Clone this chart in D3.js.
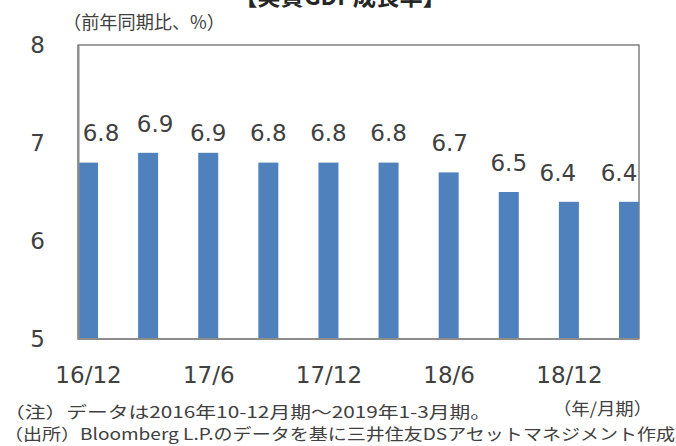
<!DOCTYPE html>
<html>
<head>
<meta charset="utf-8">
<script src="https://cdn.jsdelivr.net/npm/d3@7"></script>
<style>
body { margin: 0; background: #fff; }
svg { display: block; }
text { font-family: "DejaVu Sans", Verdana, sans-serif; fill: #404040; }
.jp { font-family: "Noto Sans CJK JP", "Noto Sans", sans-serif; }
</style>
</head>
<body>
<svg id="chart" width="676" height="446"></svg>
<script>
// quarters (yy/m), y/y real GDP growth %
var quarters = ['16/12', '17/3', '17/6', '17/9', '17/12', '18/3', '18/6', '18/9', '18/12', '19/3']
var growth = [6.8, 6.9, 6.9, 6.8, 6.8, 6.8, 6.7, 6.5, 6.4, 6.4]
var yTicks = [5, 6, 7, 8]
var xTickLabels = ['16/12', '17/6', '17/12', '18/6', '18/12']

// excel pushed a few labels around to avoid overlap
var labelDx = [13, 7, 0, 0, 0, 0, 1, 0, -11, -10],
	labelGap = [22, 20.5, 12, 22, 22, 22, 21.5, 21, 21, 21]

var svg = d3.select('#chart')

var plot = {l: 78, t: 45, r: 639, b: 339},
	barW = 20

var x = d3.scalePoint()
	.domain(quarters)
	.range([plot.l + barW / 2, plot.r - barW / 2])

var y = d3.scaleLinear()
	.domain([5, 8])
	.range([plot.b, plot.t])

// title, mostly cut off at the top edge
svg.append('text')
	.attr('class', 'jp')
	.attr('x', 340)
	.attr('y', 5)
	.attr('text-anchor', 'middle')
	.attr('font-size', 24)
	.attr('font-weight', 'bold')
	.attr('textLength', 212)
	.attr('lengthAdjust', 'spacingAndGlyphs')
	.style('fill', '#262626')
	.text('【実質GDP成長率】')

svg.append('text')
	.attr('class', 'jp')
	.attr('x', 63)
	.attr('y', 29)
	.attr('font-size', 18)
	.attr('textLength', 162)
	.attr('lengthAdjust', 'spacingAndGlyphs')
	.text('（前年同期比、%）')

// plot frame
svg.append('rect')
	.attr('x', plot.l)
	.attr('y', plot.t)
	.attr('width', plot.r - plot.l)
	.attr('height', plot.b - plot.t)
	.attr('fill', 'none')
	.attr('stroke', '#404040')
	.attr('stroke-width', 1)

svg.selectAll('.bar')
	.data(growth)
	.enter()
	.append('rect')
	.attr('class', 'bar')
	.attr('x', function(d, i) {return x(quarters[i]) - barW / 2})
	.attr('y', function(d) {return y(d)})
	.attr('width', barW)
	.attr('height', function(d) {return y(5) - y(d)})
	.attr('fill', '#4f81bd')

svg.selectAll('.val')
	.data(growth)
	.enter()
	.append('text')
	.attr('class', 'val')
	.attr('x', function(d, i) {return x(quarters[i]) + labelDx[i]})
	.attr('y', function(d, i) {return y(d) - labelGap[i]})
	.attr('text-anchor', 'middle')
	.attr('font-size', 23)
	.text(function(d) {return d.toFixed(1)})

var yAxis = svg.append('g')
	.attr('transform', 'translate(' + plot.l + ',0)')
	.call(d3.axisLeft(y).tickValues(yTicks).tickSize(0).tickPadding(33).tickFormat(d3.format('d')))
yAxis.select('.domain').attr('stroke', '#8c8c8c').attr('stroke-width', 2)
yAxis.selectAll('text')
	.attr('font-size', 23)
	.attr('font-family', '"DejaVu Sans", sans-serif')
	.style('fill', '#404040')

var xAxis = svg.append('g')
	.attr('transform', 'translate(0,' + plot.b + ')')
	.call(d3.axisBottom(x).tickSize(0).tickPadding(28)
		.tickFormat(function(q) {return xTickLabels.indexOf(q) >= 0 ? q : ''}))
xAxis.select('.domain')
	.attr('d', 'M' + plot.l + ',0H' + plot.r)
	.attr('stroke', '#8c8c8c')
	.attr('stroke-width', 2)
xAxis.selectAll('text')
	.attr('font-size', 23)
	.attr('font-family', '"DejaVu Sans", sans-serif')
	.style('fill', '#404040')

svg.append('text')
	.attr('class', 'jp')
	.attr('x', 553)
	.attr('y', 415)
	.attr('font-size', 17)
	.attr('textLength', 99)
	.attr('lengthAdjust', 'spacingAndGlyphs')
	.text('（年/月期）')

svg.append('text')
	.attr('class', 'jp')
	.attr('x', 4)
	.attr('y', 418)
	.attr('font-size', 16)
	.attr('textLength', 487)
	.attr('lengthAdjust', 'spacingAndGlyphs')
	.text('（注）データは2016年10-12月期～2019年1-3月期。')

svg.append('text')
	.attr('class', 'jp')
	.attr('x', 4)
	.attr('y', 440)
	.attr('font-size', 16)
	.attr('textLength', 671)
	.attr('lengthAdjust', 'spacingAndGlyphs')
	.text('（出所）Bloomberg L.P.のデータを基に三井住友DSアセットマネジメント作成')
</script>
</body>
</html>
